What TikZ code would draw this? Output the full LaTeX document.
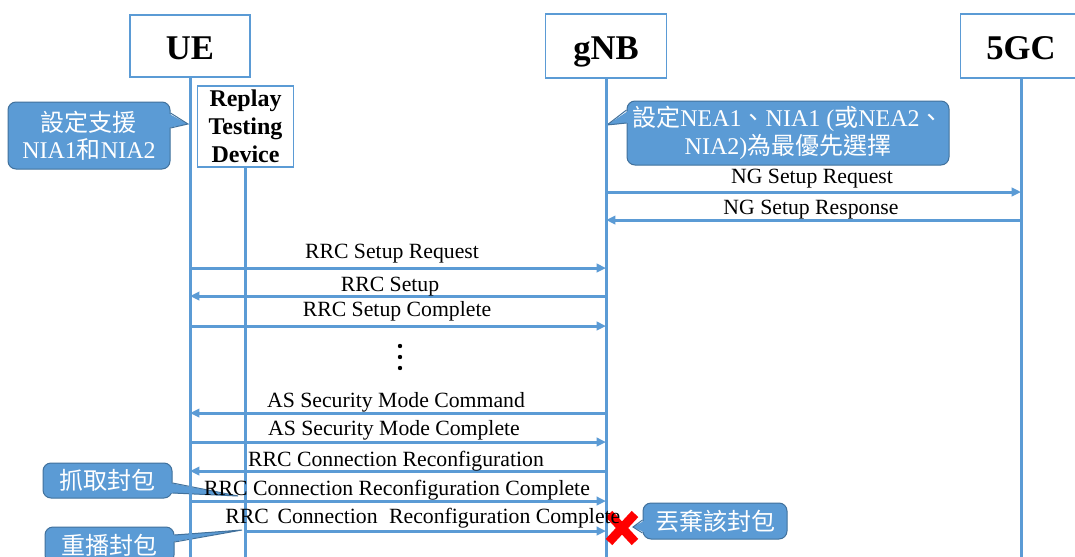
\documentclass[tikz,border=0pt]{standalone}
\usepackage{fontspec}
\setmainfont{Liberation Serif}
\newfontfamily\cjk{Noto Sans CJK TC}
\usetikzlibrary{arrows.meta,calc}
\definecolor{lineblue}{HTML}{5B9BD5}
\definecolor{callfill}{HTML}{5B9BD5}
\definecolor{calldraw}{HTML}{41719C}
\definecolor{xred}{HTML}{FF0000}
\begin{document}
\begin{tikzpicture}[x=0.75pt,y=-0.75pt,
  life/.style={draw=lineblue, line width=2.25pt},
  msg/.style={draw=lineblue, line width=2.25pt, -{Triangle[length=7pt,width=6.25pt]}},
  entity/.style={draw=lineblue, line width=1.1pt, fill=white, inner sep=0pt, font=\fontsize{26}{30}\selectfont\bfseries},
  lbl/.style={font=\fontsize{16.3}{19}\selectfont, inner sep=0pt, anchor=base},
  callout/.style={fill=callfill, draw=calldraw, line width=0.75pt, rounded corners=6pt, text=white, inner sep=0pt, align=center, font=\fontsize{18}{20.5}\selectfont},
  ptr/.style={fill=callfill},
  ptredge/.style={draw=calldraw, line width=0.75pt, line join=miter},
  cross/.style={draw=xred, line width=6.75pt}
]
\clip (0,0) rectangle (1075,557);
\fill[white] (0,0) rectangle (1075,557);

% ---------- callouts ----------
\node[callout, minimum width=121.5pt, minimum height=50.25pt] (c1) at (89,135.5)
  {{\cjk 設定支援}\\NIA1{\cjk 和}NIA2};
\coordinate (t1) at (188,124);
\fill[ptr] ($(c1.east|-0,113)+(-3,0)$) -- (t1) -- ($(c1.east|-0,128)+(-3,0)$) -- cycle;
\draw[ptredge] (c1.east|-0,113) -- (t1) -- (c1.east|-0,128);

\node[callout, minimum width=241.5pt, minimum height=48pt, font=\fontsize{18}{21.5}\selectfont] (c2) at (788,133)
  {{\cjk 設定}NEA1{\cjk 、}NIA1 ({\cjk 或}NEA2{\cjk 、}\\NIA2){\cjk 為最優先選擇}};
\coordinate (t2) at (607,125);
\fill[ptr] ($(c2.west|-0,110)+(3,0)$) -- (t2) -- ($(c2.west|-0,123)+(3,0)$) -- cycle;
\draw[ptredge] (c2.west|-0,110) -- (t2) -- (c2.west|-0,123);

\node[callout, minimum width=96.75pt, minimum height=26.25pt] (c3) at (107.5,480.5)
  {\cjk 抓取封包};
\coordinate (t3) at (238,496);
\fill[ptr] ($(c3.east|-0,483)+(-3,0)$) -- (t3) -- ($(c3.east|-0,493)+(-3,0)$) -- cycle;
\draw[ptredge] (c3.east|-0,483) -- (t3) -- (c3.east|-0,493);

\node[callout, minimum width=96.75pt, minimum height=27pt] (c4) at (109.5,545)
  {\cjk 重播封包};
\coordinate (t4) at (242,530);
\fill[ptr] ($(c4.east|-0,535)+(-3,0)$) -- (t4) -- ($(c4.east|-0,542)+(-3,0)$) -- cycle;
\draw[ptredge] (c4.east|-0,535) -- (t4) -- (c4.east|-0,542);

\node[callout, minimum width=108pt, minimum height=27pt] (c5) at (715,521)
  {\cjk 丟棄該封包};
\coordinate (t5) at (633,527);
\fill[ptr] ($(c5.west|-0,520)+(3,0)$) -- (t5) -- ($(c5.west|-0,533)+(3,0)$) -- cycle;
\draw[ptredge] (c5.west|-0,520) -- (t5) -- (c5.west|-0,533);

% ---------- entities ----------
\node[entity, text height=19.5pt, text depth=0pt, minimum width=90pt, minimum height=46.5pt] (ue) at (190,46) {UE};
\node[entity, text height=19.5pt, text depth=0pt, minimum width=90.75pt, minimum height=48pt] (gnb) at (606,46) {gNB};
\node[entity, text height=19.5pt, text depth=0pt, minimum width=90.75pt, minimum height=48pt] (core) at (1021,46) {5GC};
\node[entity, font=\fontsize{18}{21}\selectfont\bfseries, align=center, minimum width=72pt, minimum height=60.75pt] (rtd) at (245.5,126.5) {Replay\\Testing\\Device};

% ---------- lifelines ----------
\coordinate (bot) at (0,562);
\draw[life] (ue.south) -- (ue.south |- bot);
\draw[life] (rtd.south) -- (rtd.south |- bot);
\draw[life] (gnb.south) -- (gnb.south |- bot);
\draw[life] (core.south) -- (core.south |- bot);

% ---------- messages ----------
\draw[msg] (gnb.south |- 0,192) -- (core.south |- 0,192);
\draw[msg] (core.south |- 0,220) -- (gnb.south |- 0,220);
\draw[msg] (ue.south |- 0,268) -- (gnb.south |- 0,268);
\draw[msg] (gnb.south |- 0,296) -- (ue.south |- 0,296);
\draw[msg] (ue.south |- 0,326) -- (gnb.south |- 0,326);
\draw[msg] (gnb.south |- 0,413) -- (ue.south |- 0,413);
\draw[msg] (ue.south |- 0,442) -- (gnb.south |- 0,442);
\draw[msg] (gnb.south |- 0,471) -- (ue.south |- 0,471);
\draw[msg] (ue.south |- 0,501) -- (gnb.south |- 0,501);
\draw[msg] (rtd.south |- 0,531) -- (gnb.south |- 0,531);

% ---------- dots ----------
\fill (400,346) circle (2.2);
\fill (400,357) circle (2.2);
\fill (400,368) circle (2.2);

% ---------- red cross ----------
\draw[cross] (609,514) -- (635,542);
\draw[cross] (635,514) -- (609,542);

% ---------- labels ----------
\node[lbl] (m1) at (812,183) {NG Setup Request};
\node[lbl] (m2) at (811,214) {NG Setup Response};
\node[lbl] (m3) at (392,258) {RRC Setup Request};
\node[lbl] (m4) at (390,291) {RRC Setup};
\node[lbl] (m5) at (397,316) {RRC Setup Complete};
\node[lbl] (m6) at (396,407) {AS Security Mode Command};
\node[lbl] (m7) at (394,435) {AS Security Mode Complete};
\node[lbl] (m8) at (396,466) {RRC Connection Reconfiguration};
\node[lbl] (m9) at (397,495) {RRC Connection Reconfiguration Complete};
\node[lbl, anchor=base west] (m10) at (225,523) {RRC\hspace{2.5pt} Connection\hspace{4.5pt} Reconfiguration Complete};
\end{tikzpicture}
\end{document}
